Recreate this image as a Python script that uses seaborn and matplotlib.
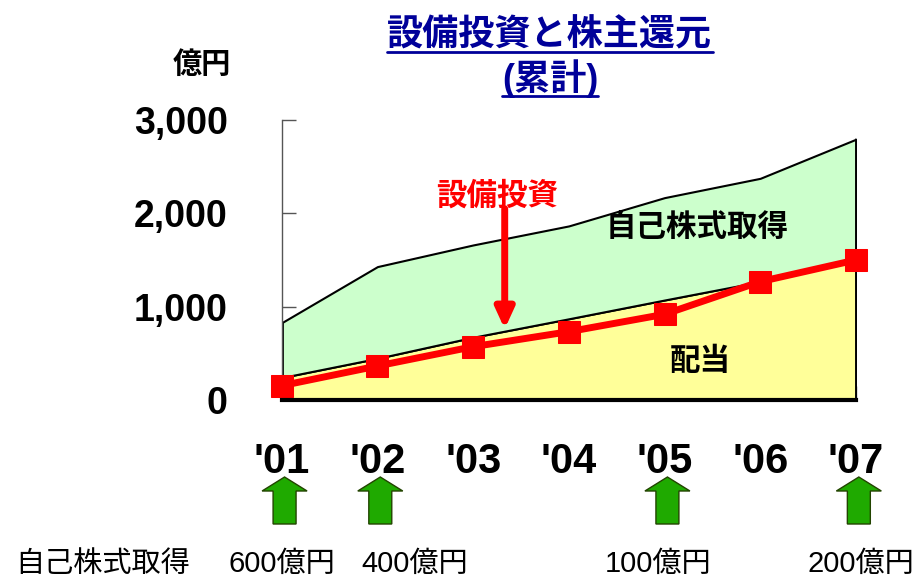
import matplotlib
matplotlib.use('Agg')
import matplotlib.pyplot as plt
import matplotlib.transforms as mtransforms
from matplotlib.lines import Line2D
from matplotlib.patches import FancyArrow
import seaborn as sns
import pandas as pd

# Data (cumulative, 億円)
years = ["'01", "'02", "'03", "'04", "'05", "'06", "'07"]
dividend = [240, 446, 672, 870, 1071, 1268, 1500]
buyback_top = [828, 1429, 1661, 1865, 2168, 2375, 2794]
capex = [153, 364, 571, 732, 918, 1268, 1500]

# yearly share buyback amounts (green arrows)
buyback_years = [0, 1, 4, 6]
buyback_labels = ['600億円', '400億円', '100億円', '200億円']
buyback_label_x = [0.0, 1.39, 3.93, 6.05]

sns.set_style('white')
plt.rcParams['font.family'] = ['Liberation Sans', 'Noto Sans CJK JP']
plt.rcParams['text.color'] = 'black'
plt.rcParams['xtick.color'] = '#555555'
plt.rcParams['ytick.color'] = '#555555'

df = pd.DataFrame({'x': range(len(years)), 'capex': capex})

fig = plt.figure(figsize=(9.2, 5.79), dpi=100)
ax = fig.add_axes([0.3062, 0.3092, 0.6242, 0.4836])

x = list(range(len(years)))
ax.fill_between(x, 0, dividend, color='#ffff99', edgecolor='black', linewidth=1.5, zorder=1)
ax.fill_between(x, dividend, buyback_top, color='#ccffcc', edgecolor='black', linewidth=1.5, zorder=1)
ax.plot([x[-1], x[-1]], [0, buyback_top[-1]], color='black', lw=2, zorder=2)
ax.plot([x[0], x[0]], [0, buyback_top[0]], color='black', lw=2, zorder=2)

sns.lineplot(data=df, x='x', y='capex', ax=ax, color='#ff0000', linewidth=5,
             marker='s', markersize=16, markeredgecolor='#ff0000', clip_on=False, zorder=5)

ax.set_xlim(0, 6)
ax.set_ylim(0, 3000)
ax.set_xticks(x)
ax.set_xticklabels(years, fontsize=30, fontweight='bold', color='black')
ax.set_yticks([0, 1000, 2000, 3000])
ax.set_yticklabels(['0', '1,000', '2,000', '3,000'], fontsize=27, fontweight='bold', color='black')
ax.set_xlabel('')
ax.set_ylabel('')
for s in ['top', 'right']:
    ax.spines[s].set_visible(False)
ax.spines['left'].set_color('#555555')
ax.spines['left'].set_linewidth(1)
ax.spines['bottom'].set_color('black')
ax.spines['bottom'].set_linewidth(3)
ax.spines['bottom'].set_zorder(6)
ax.tick_params(axis='y', left=True, direction='in', length=10, width=1, color='#555555', pad=39)
ax.tick_params(axis='x', bottom=True, direction='in', length=10, width=1, color='#555555', pad=30)
ax.patch.set_alpha(0)

# annotations in the chart
ax.text(2.25, 2175, '設備投資', color='#ff0000', fontsize=22, fontweight='bold', ha='center', va='center')
ax.annotate('', xy=(2.33, 760), xytext=(2.33, 2050),
            arrowprops=dict(arrowstyle='-|>,head_length=1.2,head_width=0.55', color='#ff0000', lw=5,
                            shrinkA=0, shrinkB=0))
ax.text(4.34, 1843, '自己株式取得', color='black', fontsize=22, fontweight='bold', ha='center', va='center')
ax.text(4.37, 407, '配当', color='black', fontsize=22, fontweight='bold', ha='center', va='center')

# green arrows below axis
trans = mtransforms.blended_transform_factory(ax.transData, fig.transFigure)
for bx in buyback_years:
    arr = FancyArrow(bx + 0.03, 55 / 579, 0, 47 / 579, width=0.24, head_width=0.47,
                     head_length=14 / 579, length_includes_head=True,
                     facecolor='#1faa00', edgecolor='#224400', linewidth=1,
                     transform=trans, clip_on=False)
    fig.add_artist(arr)
for lx, lab in zip(buyback_label_x, buyback_labels):
    fig.text(0, 15 / 579, lab, fontsize=21, ha='center', va='center',
             transform=trans)
    fig.texts[-1].set_x(lx)
fig.text(103 / 920, 15 / 579, '自己株式取得', fontsize=21, ha='center', va='center')

# unit + title
fig.text(202 / 920, 1 - 65 / 579, '億円', fontsize=21, fontweight='bold', ha='center', va='center')
t1 = fig.text(550 / 920, 1 - 36 / 579, '設備投資と株主還元', fontsize=26, fontweight='bold',
              color='#000099', ha='center', va='center')
t2 = fig.text(550 / 920, 1 - 79 / 579, '(累計)', fontsize=26, fontweight='bold',
              color='#000099', ha='center', va='center')

fig.canvas.draw()
r = fig.canvas.get_renderer()
for t in [t1, t2]:
    bb = t.get_window_extent(r)
    yy = bb.y0 + 2
    fig.add_artist(Line2D([bb.x0, bb.x1], [yy, yy], color='#000099', lw=2,
                          transform=None))

fig.savefig('out.png', dpi=100)
